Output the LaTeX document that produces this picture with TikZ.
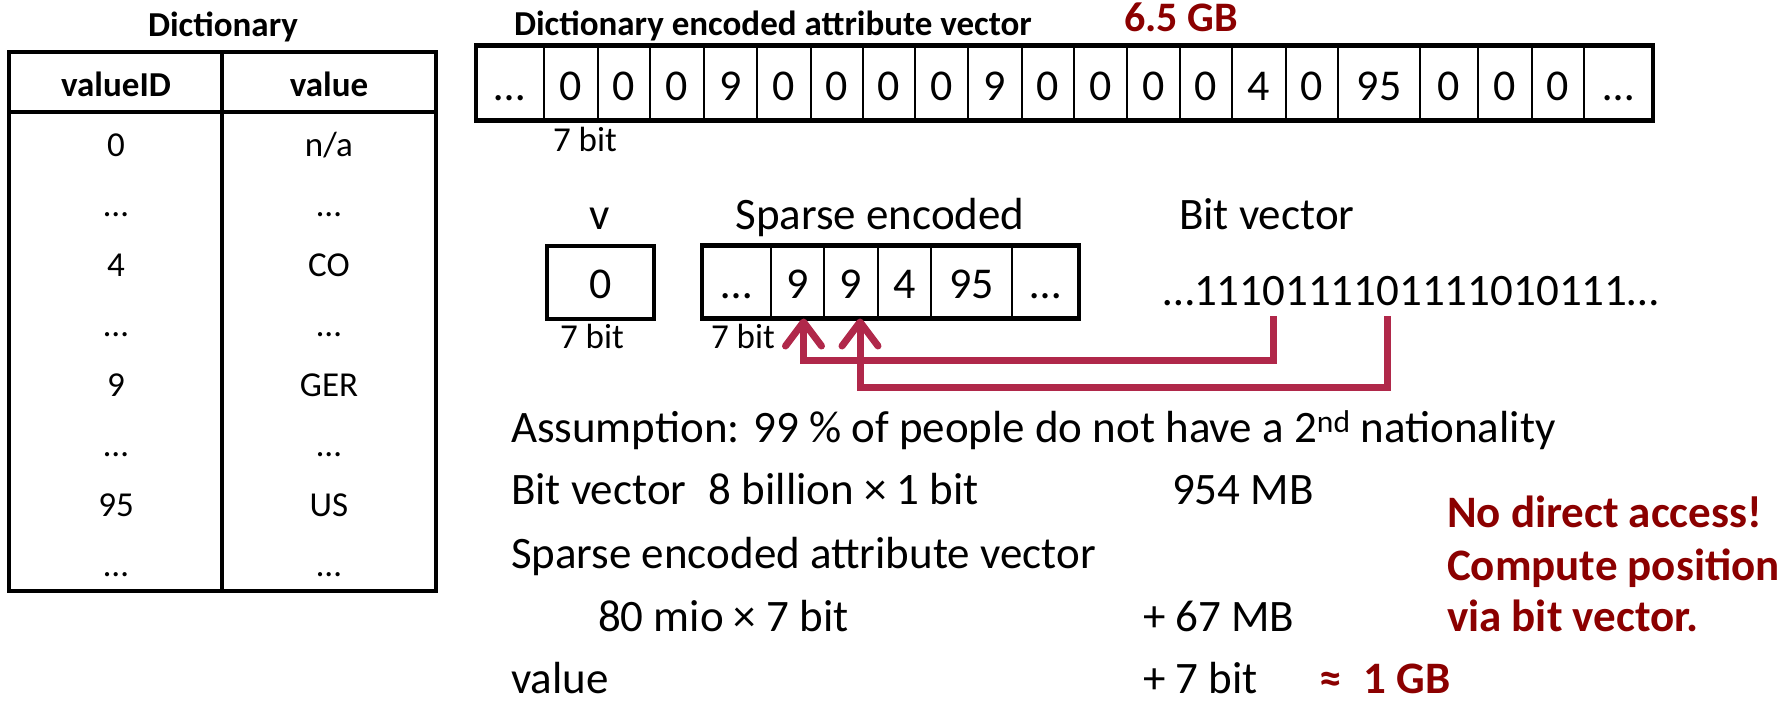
\documentclass[tikz,border=0pt]{standalone}
\usepackage{fontspec}
\setmainfont{Carlito}
\usetikzlibrary{arrows.meta,calc}
\definecolor{accentred}{RGB}{139,0,0}
\definecolor{linkred}{RGB}{176,40,74}
\begin{document}
\begin{tikzpicture}[x=1pt,y=-1pt,
  txt/.style={inner sep=0pt,outer sep=0pt,anchor=base},
  txtl/.style={inner sep=0pt,outer sep=0pt,anchor=base west},
  big/.style={font=\fontsize{45}{50}\selectfont},
  mid/.style={font=\fontsize{35}{40}\selectfont},
  midb/.style={font=\bfseries\fontsize{35}{40}\selectfont},
  alert/.style={text=accentred,font=\bfseries\fontsize{45}{50}\selectfont},
  tabline/.style={line width=3.5pt},
  cellbox/.style={draw,line width=2.5pt,inner sep=0pt,outer sep=0pt,
    font=\fontsize{44}{50}\selectfont},
  frame/.style={line width=4.5pt},
  ptr/.style={draw=linkred,line width=7pt,
    -{Straight Barb[length=24pt,width=36pt,round]}}]
\useasboundingbox (0,0) rectangle (1785,704);

% ---- dictionary table
\node[txt,midb] (dicttitle) at (223,36) {Dictionary};
\draw[tabline] (9,52) rectangle (436,591);
\draw[tabline] (222,52) -- (222,591);
\draw[tabline] (9,112) -- (436,112);
\node[txt,midb] (hid) at (116,96) {valueID};
\node[txt,midb] (hval) at (329,96) {value};
\node[txt,mid] (id0) at (116,156) {0};   \node[txt,mid] (v0) at (329,156) {n/a};
\node[txt,mid] (id1) at (116,216) {…};   \node[txt,mid] (v1) at (329,216) {…};
\node[txt,mid] (id2) at (116,276) {4};   \node[txt,mid] (v2) at (329,276) {CO};
\node[txt,mid] (id3) at (116,336) {…};   \node[txt,mid] (v3) at (329,336) {…};
\node[txt,mid] (id4) at (116,396) {9};   \node[txt,mid] (v4) at (329,396) {GER};
\node[txt,mid] (id5) at (116,456) {…};   \node[txt,mid] (v5) at (329,456) {…};
\node[txt,mid] (id6) at (116,516) {95};  \node[txt,mid] (v6) at (329,516) {US};
\node[txt,mid] (id7) at (116,576) {…};   \node[txt,mid] (v7) at (329,576) {…};

% ---- dictionary encoded attribute vector
\node[txtl,midb] (avtitle) at (514,35) {Dictionary encoded attribute vector};
\node[txt,text=accentred,font=\bfseries\fontsize{42}{46}\selectfont] (size) at (1181,31) {6.5 GB};
\foreach \l/\r/\t [count=\i] in {476/544/…,544/598/0,598/650/0,650/704/0,704/757/9,
    757/811/0,811/863/0,863/915/0,915/968/0,968/1022/9,1022/1074/0,1074/1127/0,
    1127/1180/0,1180/1232/0,1232/1286/4,1286/1338/0,1338/1420/95,1420/1478/0,
    1478/1532/0,1532/1584/0,1584/1653/…}{
  \node[cellbox,minimum width={(\r-\l)*1pt},minimum height=75pt,
        text height=34pt,text depth=0pt] (t\i) at ({(\l+\r)/2},83) {\t};
}
\draw[frame] (t1.north west) rectangle (t21.south east);
\node[txtl,mid] (tbits) at (553,151) {7 bit};

% ---- value v and sparse encoded vector
\node[txt,big] (vlabel) at (600,229) {v};
\node[cellbox,line width=4pt,minimum width=107pt,minimum height=73pt,
      text height=32pt,text depth=0pt] (vbox) at (600.5,282) {0};
\node[txtl,mid] (vbits) at (560,348) {7 bit};

\node[txt,big] (slabel) at (880,229) {Sparse encoded};
\foreach \l/\r/\t [count=\i] in {702/771/…,771/824/9,824/878/9,878/931/4,
    931/1012/95,1012/1079/…}{
  \node[cellbox,minimum width={(\r-\l)*1pt},minimum height=73pt,
        text height=32pt,text depth=0pt] (s\i) at ({(\l+\r)/2},282) {\t};
}
\draw[frame] (s1.north west) rectangle (s6.south east);
\node[txtl,mid] (sbits) at (711,348) {7 bit};

% ---- bit vector
\node[txtl,big] (blabel) at (1179,229) {Bit vector};
\node[txtl,big] (b0) at (1163,305) {…111};
\node[txtl,big] (bz1) at (b0.base east) {0};
\node[txtl,big] (b1) at (bz1.base east) {1111};
\node[txtl,big] (bz2) at (b1.base east) {0};
\node[txtl,big] (b2) at (bz2.base east) {1111010111…};

\coordinate (lv1) at (0,360);
\coordinate (lv2) at (0,387);
\draw[ptr] ([yshift=-11pt]bz1.base) -- (bz1.base |- lv1)
  -- ([xshift=6pt]s2.south |- lv1) -- ([xshift=6pt]s2.south);
\draw[ptr] ([yshift=-11pt]bz2.base) -- (bz2.base |- lv2)
  -- ([xshift=9pt]s3.south |- lv2) -- ([xshift=9pt]s3.south);

% ---- size estimate
\node[txtl,big] (assume) at (511,442) {Assumption: 99 \% of people do not have a 2\textsuperscript{nd} nationality};
\node[txtl,big] (bvline) at (511,504) {Bit vector\enspace 8 billion × 1 bit};
\node[txtl,big] (bvsize) at (1172,504) {954 MB};
\node[txtl,big] (spline) at (511,568) {Sparse encoded attribute vector};
\node[txtl,big] (spcalc) at (598,631) {80 mio × 7 bit};
\node[txtl,big] (spsize) at (1143,631) {+ 67 MB};
\node[txtl,big] (valline) at (511,693) {value};
\node[txtl,big] (valsize) at (1143,693) {+ 7 bit};
\node[txtl,alert] (total) at (1319,693) {≈\enspace 1 GB};

\node[txtl,alert] (note1) at (1447,527) {No direct access!};
\node[txtl,alert] (note2) at (1447,580) {Compute position};
\node[txtl,alert] (note3) at (1447,631) {via bit vector.};
\end{tikzpicture}
\end{document}
